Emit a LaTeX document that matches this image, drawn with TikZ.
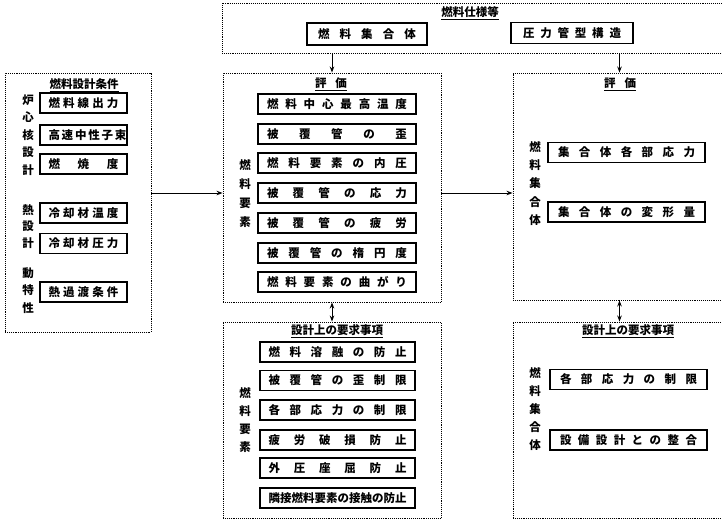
\documentclass[tikz,border=0pt]{standalone}
\usepackage{fontspec}
\newfontfamily\jpfont{Noto Sans CJK JP}
\usetikzlibrary{arrows.meta,positioning}
\newcommand{\Spread}[2]{\makebox[#1][s]{#2}}

\begin{document}
\begin{tikzpicture}[
  x=1pt, y=-1pt,
  frame/.style={draw, densely dotted, line width=0.9pt, inner sep=0pt},
  item/.style={draw, line width=1.2pt, minimum height=20pt, inner sep=0pt,
               font=\jpfont\bfseries\fontsize{11.5}{13}\selectfont},
  ttl/.style={inner sep=1pt, font=\jpfont\bfseries\fontsize{11.5}{13}\selectfont},
  vlab/.style={align=center, inner sep=0pt,
               font=\jpfont\bfseries\fontsize{11.5}{#1}\selectfont},
  vlab/.default=18pt,
  ar/.style={-{Stealth[length=6pt,width=4.5pt]}, line width=1pt},
  dar/.style={{Stealth[length=6pt,width=4.5pt]}-{Stealth[length=6pt,width=4.5pt]}, line width=1pt}
]
\useasboundingbox (0,0) rectangle (722,519);

% frames
\node[frame, minimum width=504pt, minimum height=50pt] (spec) at (474,28) {};
\node[frame, minimum width=146pt, minimum height=259pt] (cond) at (78,202.5) {};
\node[frame, minimum width=218pt, minimum height=229pt] (evalA) at (332,187.5) {};
\node[frame, minimum width=213pt, minimum height=227pt] (evalB) at (619.5,186.5) {};
\node[frame, minimum width=218pt, minimum height=196pt] (reqA) at (332,420) {};
\node[frame, minimum width=213pt, minimum height=196pt] (reqB) at (619.5,420) {};

% fuel specification
\node[ttl] (specT) at (470,13) {\underline{燃料仕様等}};
\node[item, minimum width=120pt, minimum height=22pt] (s1) at (367,34) {\Spread{98pt}{燃 料 集 合 体}};
\node[item, minimum width=122pt, minimum height=21pt] (s2) at (572,33) {\Spread{98pt}{圧 力 管 型 構 造}};

% design conditions
\node[ttl] (condT) at (84,85) {\underline{燃料設計条件}};
\node[vlab=17.5pt] (lc1) at (28,135) {炉\\心\\核\\設\\計};
\node[vlab=16.5pt] (lc2) at (28,226.5) {熱\\設\\計};
\node[vlab=17.5pt] (lc3) at (28,290.5) {動\\特\\性};
\node[item, minimum width=87pt] (c1) at (83.5,103) {\Spread{70pt}{燃 料 線 出 力}};
\node[item, minimum width=87pt] (c2) at (83.5,135) {\Spread{70pt}{高 速 中 性 子 束}};
\node[item, minimum width=87pt] (c3) at (83.5,164) {\Spread{70pt}{燃 焼 度}};
\node[item, minimum width=87pt] (c4) at (83.5,213) {\Spread{70pt}{冷 却 材 温 度}};
\node[item, minimum width=87pt] (c5) at (83.5,243.5) {\Spread{70pt}{冷 却 材 圧 力}};
\node[item, minimum width=87pt] (c6) at (83.5,292) {\Spread{70pt}{熱 過 渡 条 件}};

% evaluation, fuel element
\node[ttl] (evalAT) at (331,84) {\underline{\Spread{32pt}{評 価}}};
\node[vlab=19pt] (le1) at (245,193.5) {燃\\料\\要\\素};
\node[item, minimum width=158pt] (e1) at (337,104) {\Spread{140pt}{燃 料 中 心 最 高 温 度}};
\node[item, minimum width=158pt] (e2) at (337,134) {\Spread{140pt}{被 覆 管 の 歪}};
\node[item, minimum width=158pt] (e3) at (337,163) {\Spread{140pt}{燃 料 要 素 の 内 圧}};
\node[item, minimum width=158pt] (e4) at (337,193) {\Spread{140pt}{被 覆 管 の 応 力}};
\node[item, minimum width=158pt] (e5) at (337,223) {\Spread{140pt}{被 覆 管 の 疲 労}};
\node[item, minimum width=158pt] (e6) at (337,253) {\Spread{140pt}{被 覆 管 の 楕 円 度}};
\node[item, minimum width=158pt] (e7) at (337,282) {\Spread{140pt}{燃 料 要 素 の 曲 が り}};

% evaluation, fuel assembly
\node[ttl] (evalBT) at (620,84) {\underline{\Spread{32pt}{評 価}}};
\node[vlab=18.25pt] (la1) at (535,183.5) {燃\\料\\集\\合\\体};
\node[item, minimum width=157pt] (a1) at (626.5,152.5) {\Spread{137pt}{集 合 体 各 部 応 力}};
\node[item, minimum width=157pt] (a2) at (626.5,212) {\Spread{137pt}{集 合 体 の 変 形 量}};

% design requirements, fuel element
\node[ttl] (reqAT) at (337,331) {\underline{設計上の要求事項}};
\node[vlab=18pt] (lr1) at (245,420) {燃\\料\\要\\素};
\node[item, minimum width=155pt] (r1) at (337.5,352) {\Spread{138pt}{燃 料 溶 融 の 防 止}};
\node[item, minimum width=155pt] (r2) at (337.5,380.5) {\Spread{138pt}{被 覆 管 の 歪 制 限}};
\node[item, minimum width=155pt] (r3) at (337.5,410) {\Spread{138pt}{各 部 応 力 の 制 限}};
\node[item, minimum width=155pt] (r4) at (337.5,440) {\Spread{138pt}{疲 労 破 損 防 止}};
\node[item, minimum width=155pt] (r5) at (337.5,468) {\Spread{138pt}{外 圧 座 屈 防 止}};
\node[item, minimum width=155pt] (r6) at (337.5,498) {隣接燃料要素の接触の防止};

% design requirements, fuel assembly
\node[ttl] (reqBT) at (628,331) {\underline{設計上の要求事項}};
\node[vlab=18pt] (lb1) at (535,409) {燃\\料\\集\\合\\体};
\node[item, minimum width=157pt] (b1) at (628.5,379.5) {\Spread{137pt}{各 部 応 力 の 制 限}};
\node[item, minimum width=157pt] (b2) at (628.5,440) {\Spread{137pt}{設 備 設 計 と の 整 合}};

% connectors
\coordinate (flow) at (0,193);
\draw[ar] (spec.south -| evalA.north) -- (evalA.north);
\draw[ar] (spec.south -| evalB.north) -- (evalB.north);
\draw[ar] (cond.east |- flow) -- (evalA.west |- flow);
\draw[ar] (evalA.east |- flow) -- (evalB.west |- flow);
\draw[dar] (evalA.south) -- (reqA.north);
\draw[dar] (evalB.south) -- (reqB.north);
\end{tikzpicture}
\end{document}
